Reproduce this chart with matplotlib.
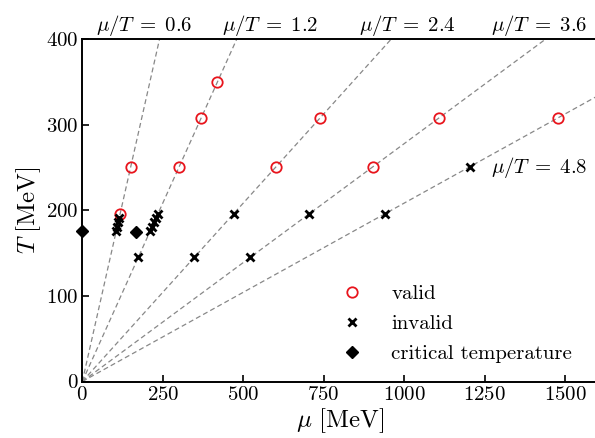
import matplotlib
matplotlib.use("Agg")
import matplotlib.pyplot as plt
import numpy as np

plt.rcParams['font.family'] = 'serif'
plt.rcParams['font.serif'] = ['cmr10', 'DejaVu Serif']
plt.rcParams['mathtext.fontset'] = 'cm'
plt.rcParams['axes.formatter.use_mathtext'] = True

# ratios mu/T of the guide lines
ratios = [0.6, 1.2, 2.4, 3.6, 4.8]
ratio_labels = ["0.6", "1.2", "2.4", "3.6", "4.8"]

# valid points: (mu/T ratio, T [MeV])
valid_ratio = [0.6, 0.6, 1.2, 1.2, 1.2, 2.4, 2.4, 3.6, 3.6, 4.8]
valid_T = [196, 251, 251, 308, 350, 251, 308, 251, 308, 308]

# invalid points
invalid_ratio = [0.6, 0.6, 0.6, 0.6, 1.2, 1.2, 1.2, 1.2, 1.2,
                 1.2, 2.4, 3.6, 2.4, 3.6, 4.8, 4.8]
invalid_T = [176, 181, 186, 191, 176, 181, 186, 191, 196,
             145, 145, 145, 196, 196, 196, 251]

# critical temperature points
crit_mu = [0, 168]
crit_T = [176, 175]

fig = plt.figure(figsize=(5.95, 4.38), dpi=100)
ax = fig.add_axes([82.3/595, 56.5/438, 515/595, 342.5/438])

Tline = np.array([0, 500])
for r in ratios:
    ax.plot(r*Tline, Tline, ls=(0, (4, 2.5)), color='#888888', lw=0.9, zorder=1)

vm = [r*t for r, t in zip(valid_ratio, valid_T)]
im = [r*t for r, t in zip(invalid_ratio, invalid_T)]
ax.plot(vm, valid_T, 'o', ls='none', mfc='none', mec='#e8141c', ms=7.5, mew=1.3, label='valid', zorder=3)
ax.plot(im, invalid_T, 'x', ls='none', color='black', ms=5.5, mew=2.0, label='invalid', zorder=3)
ax.plot(crit_mu, crit_T, 'D', ls='none', color='black', ms=6, label='critical temperature', zorder=4, clip_on=False)

ax.set_xlim(0, 1600)
ax.set_ylim(0, 400)
ax.set_xticks([0, 250, 500, 750, 1000, 1250, 1500])
ax.set_yticks([0, 100, 200, 300, 400])
ax.tick_params(direction='in', length=5, width=1.2, labelsize=15, pad=3)
ax.tick_params(axis='x', top=False)
for s in ax.spines.values():
    s.set_linewidth(1.4)

ax.set_xlabel(r'$\mu\ $[MeV]', fontsize=18, labelpad=2)
ax.set_ylabel(r'$T\ $[MeV]', fontsize=18, labelpad=2)

# labels of the guide lines
label_mu = [193, 585, 1010, 1419]
for lab, xm in zip(ratio_labels[:4], label_mu):
    ax.text(xm, 401, r'$\mu/T\;=\;%s$' % lab, ha='center', va='bottom', fontsize=15, clip_on=False)
ax.text(1421, 250, r'$\mu/T\;=\;%s$' % ratio_labels[4], ha='center', va='center', fontsize=15)

leg = ax.legend(loc='upper left', bbox_to_anchor=(0.487, 0.308), frameon=False, fontsize=15,
                handlelength=1.0, handletextpad=1.4, labelspacing=0.55, borderaxespad=0)

fig.savefig('out.png', dpi=100)
